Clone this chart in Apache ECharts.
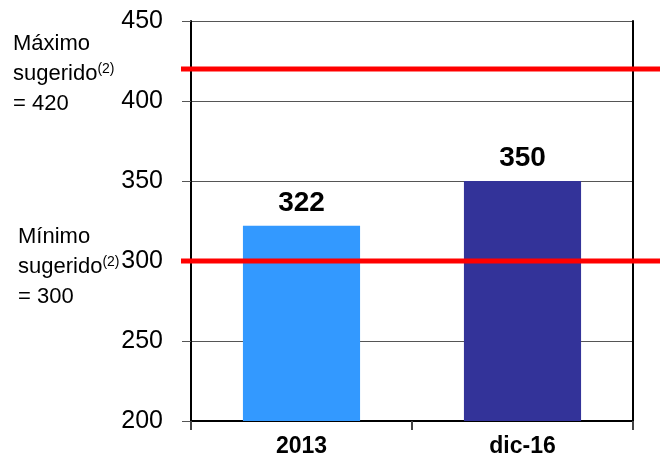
<!DOCTYPE html>
<html>
<head>
<meta charset="utf-8">
<script src="https://cdn.jsdelivr.net/npm/echarts@6/dist/echarts.min.js"></script>
<style>
  html, body { margin: 0; padding: 0; background: #fff; }
  #chart { width: 660px; height: 470px; }
</style>
</head>
<body>
<div id="chart"></div>
<script>
// Categories and values
const categories = ['2013', 'dic-16'];
const values = [322, 350];
const barColors = ['#3399FF', '#333399'];

// Suggested range (reference lines)
const maxSuggested = 420;
const minSuggested = 300;

// Value axis
const yMin = 200;
const yMax = 450;
const yStep = 50;

const baseFont = 'Liberation Sans, Arial, sans-serif';

const chart = echarts.init(document.getElementById('chart'), null, { renderer: 'canvas' });

const refLine = (v) => ({
  type: 'line',
  xAxisIndex: 1,
  yAxisIndex: 2,
  data: [[0, v], [1, v]],
  symbol: 'none',
  silent: true,
  z: 10,
  lineStyle: { color: '#FF0000', width: 5 },
  animation: false
});

const noteRich = {
  t: { fontSize: 22, lineHeight: 30, fontFamily: baseFont },
  s: { fontSize: 14, lineHeight: 14, fontFamily: baseFont, verticalAlign: 'top', padding: [3, 0, 0, 0] }
};

chart.setOption({
  animation: false,
  grid: [
    { left: 191, right: 27, top: 21, bottom: 49 },
    { left: 181, right: 0, top: 21, bottom: 49 }
  ],
  xAxis: [
    {
      type: 'category',
      gridIndex: 0,
      data: categories,
      axisLine: { show: true, lineStyle: { color: '#000', width: 2 } },
      axisTick: { show: true, length: 9, lineStyle: { color: '#444', width: 2 } },
      axisLabel: {
        margin: 14,
        color: '#000',
        fontSize: 23,
        fontWeight: 'bold',
        fontFamily: baseFont
      }
    },
    { type: 'value', gridIndex: 1, min: 0, max: 1, show: false }
  ],
  yAxis: [
    {
      type: 'value',
      gridIndex: 0,
      min: yMin,
      max: yMax,
      interval: yStep,
      axisLine: { show: true, lineStyle: { color: '#000', width: 2 } },
      axisTick: { show: true, length: 9, lineStyle: { color: '#555', width: 1 } },
      splitLine: { show: true, lineStyle: { color: '#555', width: 1 } },
      axisLabel: {
        margin: 28,
        color: '#000',
        fontSize: 25,
        fontFamily: baseFont
      }
    },
    {
      type: 'value',
      gridIndex: 0,
      position: 'right',
      min: yMin,
      max: yMax,
      interval: yStep,
      axisLine: { show: true, lineStyle: { color: '#000', width: 2 } },
      axisTick: { show: false },
      axisLabel: { show: false },
      splitLine: { show: false }
    },
    { type: 'value', gridIndex: 1, min: yMin, max: yMax, show: false }
  ],
  series: [
    {
      type: 'bar',
      xAxisIndex: 0,
      yAxisIndex: 0,
      barWidth: '53%',
      data: values.map((v, i) => ({ value: v, itemStyle: { color: barColors[i] } })),
      label: {
        show: true,
        position: 'top',
        distance: 9,
        color: '#000',
        fontSize: 28,
        fontWeight: 'bold',
        fontFamily: baseFont
      }
    },
    refLine(maxSuggested),
    refLine(minSuggested)
  ],
  graphic: [
    {
      type: 'text',
      left: 13,
      top: 33,
      style: {
        text: '{t|Máximo}\n{t|sugerido}{s|(2)}\n{t|= ' + maxSuggested + '}',
        fill: '#000',
        rich: noteRich
      }
    },
    {
      type: 'text',
      left: 18,
      top: 226,
      style: {
        text: '{t|Mínimo}\n{t|sugerido}{s|(2)}\n{t|= ' + minSuggested + '}',
        fill: '#000',
        rich: noteRich
      }
    }
  ]
});
</script>
</body>
</html>
